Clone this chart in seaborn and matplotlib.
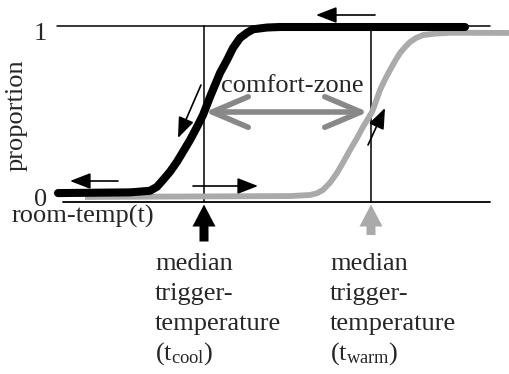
import numpy as np
import pandas as pd
import matplotlib
matplotlib.use("Agg")
import matplotlib.pyplot as plt
import seaborn as sns

# ---- data (x in chart units, y = proportion) ----
cool_x = [58, 130, 150, 157, 163, 170, 177, 183, 190, 197, 203, 210, 220, 227,
          233, 240, 247, 253, 267, 280, 465]
cool_p = [0.051, 0.055, 0.064, 0.087, 0.126, 0.173, 0.230, 0.287, 0.354, 0.429,
          0.497, 0.600, 0.737, 0.811, 0.880, 0.937, 0.967, 0.987, 0.997, 1.000, 1.000]
warm_x = [85, 290, 310, 317, 323, 330, 337, 343, 350, 357, 363, 372, 376, 380,
          385, 390, 395, 400, 405, 410, 416, 423, 435, 450, 509]
warm_p = [0.029, 0.034, 0.040, 0.050, 0.069, 0.110, 0.166, 0.225, 0.297, 0.365,
          0.429, 0.514, 0.575, 0.640, 0.700, 0.754, 0.805, 0.851, 0.885, 0.914,
          0.937, 0.954, 0.962, 0.967, 0.966]
t_cool = 204
t_warm = 371
y_tick_labels = ["0", "1"]
y_label = "proportion"
x_label = "room-temp(t)"
zone_label = "comfort-zone"
cool_lines = ["median", "trigger-", "temperature", r"(t$_{\mathrm{cool}}$)"]
warm_lines = ["median", "trigger-", "temperature", r"(t$_{\mathrm{warm}}$)"]

sns.set_style("white")
plt.rcParams["font.family"] = ["Liberation Serif", "DejaVu Serif"]
plt.rcParams["mathtext.fontset"] = "custom"
plt.rcParams["mathtext.rm"] = "Liberation Serif"
plt.rcParams["mathtext.it"] = "Liberation Serif:italic"

fig = plt.figure(figsize=(5.09, 3.74), dpi=100)
ax = fig.add_axes([0, 0, 1, 1])

# pixel row -> proportion helper for layout
def P(ypx):
    return (202.0 - ypx) / 175.0

FS = 19
BLACK = "#000000"
GRAY = "#aaaaaa"
ZONE = "#888888"

# frame lines
ax.plot([57, 490], [P(26), P(26)], color=BLACK, lw=1.1, zorder=1)
ax.plot([63, 490], [0, 0], color=BLACK, lw=1.3, zorder=1)
ax.plot([t_cool, t_cool], [0, P(26)], color=BLACK, lw=1.1, zorder=1)
ax.plot([t_warm, t_warm], [0, P(26)], color=BLACK, lw=1.1, zorder=1)

df_w = pd.DataFrame({"x": warm_x, "p": warm_p})
df_c = pd.DataFrame({"x": cool_x, "p": cool_p})
sns.lineplot(data=df_w, x="x", y="p", ax=ax, color=GRAY, lw=4.2, sort=False,
             zorder=3, solid_capstyle="butt", solid_joinstyle="round")
sns.lineplot(data=df_c, x="x", y="p", ax=ax, color=BLACK, lw=5.8, sort=False,
             zorder=4, solid_capstyle="round", solid_joinstyle="round")
ax.set_xlim(0, 509)
ax.set_ylim(P(374), P(0))
ax.axis("off")

# small direction arrows
small = dict(arrowstyle="-|>,head_length=0.9,head_width=0.35", color=BLACK,
             lw=1.2, mutation_scale=14, shrinkA=0, shrinkB=0)
ax.annotate("", xy=(70, P(181)), xytext=(118, P(181)), arrowprops=small, zorder=6)
ax.annotate("", xy=(258, P(186)), xytext=(193, P(186)), arrowprops=small, zorder=6)
ax.annotate("", xy=(316, P(15)), xytext=(375, P(15)), arrowprops=small, zorder=6)
ax.annotate("", xy=(178, P(138)), xytext=(201, P(85)), arrowprops=small, zorder=6)
ax.annotate("", xy=(385, P(108)), xytext=(368, P(145)), arrowprops=small, zorder=6)

# comfort-zone double arrow
ax.annotate("", xy=(205, P(112)), xytext=(368, P(112)),
            arrowprops=dict(arrowstyle="<->,head_length=1.3,head_width=0.55",
                            color=ZONE, lw=4, mutation_scale=20,
                            shrinkA=0, shrinkB=0, capstyle="round",
                            joinstyle="round"), zorder=5)
ax.text(221, P(92), zone_label, fontsize=FS, ha="left", va="baseline", zorder=7)

# median trigger-temperature markers
ax.arrow(t_cool, P(241.5), 0, P(204.5) - P(241.5), width=9, head_width=23,
         head_length=22 / 175, length_includes_head=True, color=BLACK, lw=0, zorder=5)
ax.arrow(t_warm, P(235), 0, P(204.5) - P(235), width=9, head_width=23,
         head_length=22 / 175, length_includes_head=True, color=GRAY, lw=0, zorder=5)

# tick labels & axis labels
ax.text(40, P(40), y_tick_labels[1], fontsize=FS, ha="center", va="baseline")
ax.text(41, P(206), y_tick_labels[0], fontsize=FS, ha="center", va="baseline")
ax.text(17, P(115), y_label, fontsize=FS, rotation=90, ha="center", va="center")
ax.text(12, P(223), x_label, fontsize=FS, ha="left", va="baseline")

baselines = [270, 300, 330, 360]
for txt, b in zip(cool_lines, baselines):
    ax.text(155, P(b), txt, fontsize=FS, ha="left", va="baseline")
for txt, b in zip(warm_lines, baselines):
    ax.text(330, P(b), txt, fontsize=FS, ha="left", va="baseline")

fig.savefig("out.png", dpi=100, facecolor="white")
